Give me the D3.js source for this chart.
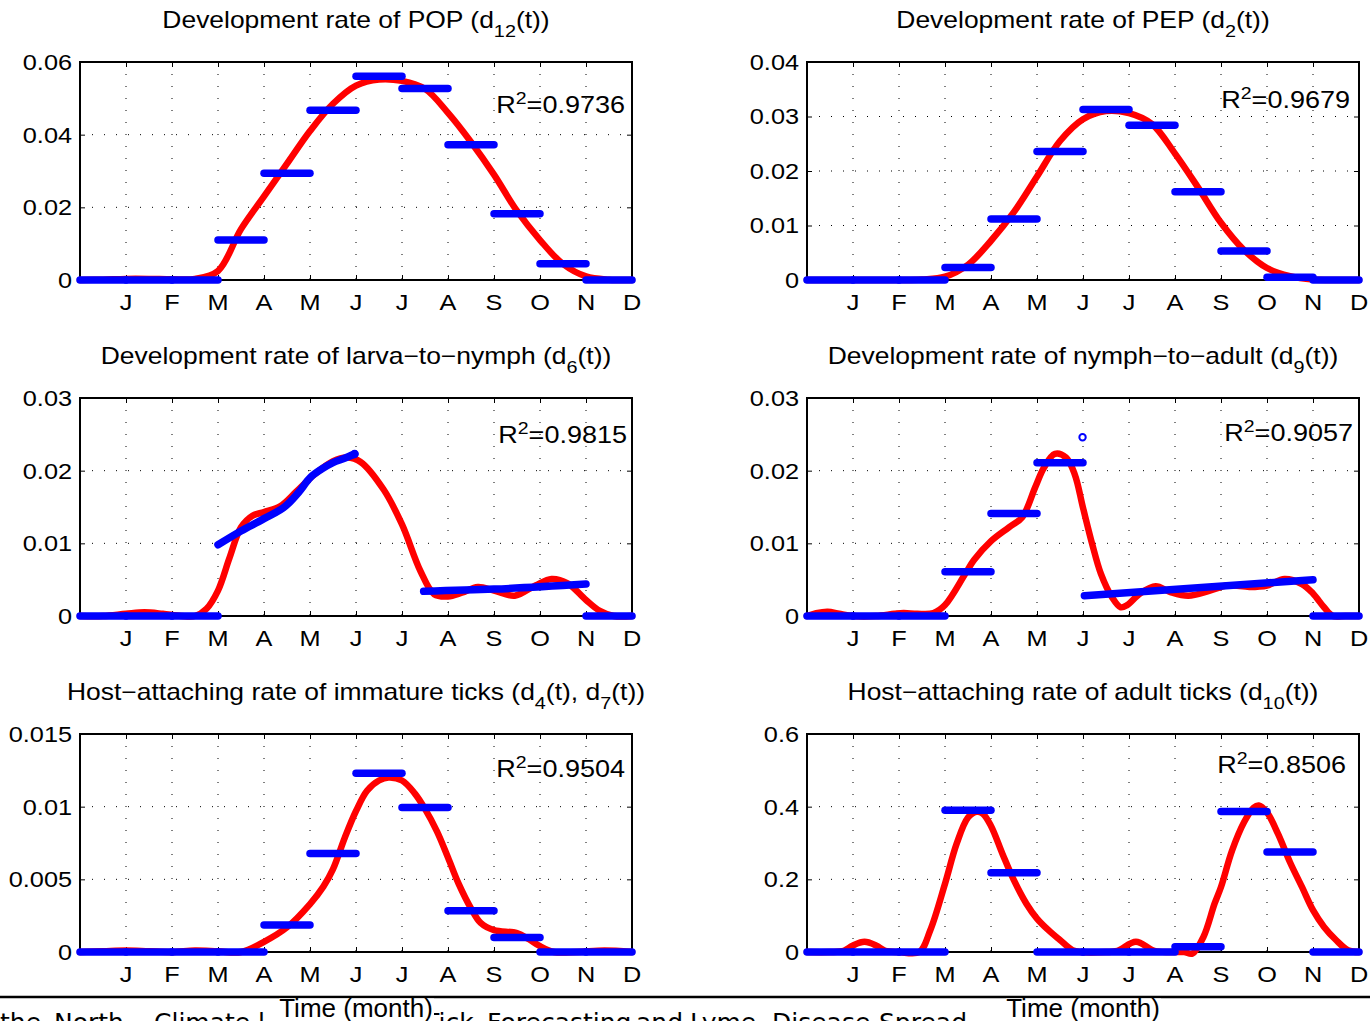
<!DOCTYPE html>
<html><head><meta charset="utf-8">
<script src="https://cdn.jsdelivr.net/npm/d3@7"></script>
<style>
body{margin:0;background:#fff;overflow:hidden;}
svg{display:block;}
text{font-family:"Liberation Sans",Arial,Helvetica,sans-serif;fill:#000;}
</style>
</head><body>
<svg id="c" width="1370" height="1021"></svg>
<script>
// ---------------- data ----------------
const monthLabels = ["J","F","M","A","M","J","J","A","S","O","N","D"];
const monthTicks  = [1,2,3,4,5,6,7,8,9,10,11,12];

const titles = [
  "Development rate of POP (d_{12}(t))",
  "Development rate of PEP (d_{2}(t))",
  "Development rate of larva\u2212to\u2212nymph (d_{6}(t))",
  "Development rate of nymph\u2212to\u2212adult (d_{9}(t))",
  "Host\u2212attaching rate of immature ticks (d_{4}(t), d_{7}(t))",
  "Host\u2212attaching rate of adult ticks (d_{10}(t))"
];
const r2Values = ["0.9736","0.9679","0.9815","0.9057","0.9504","0.8506"];
const yMaxes   = [0.06, 0.04, 0.03, 0.03, 0.015, 0.6];
const yTickValues = [
  [0,0.02,0.04,0.06],[0,0.01,0.02,0.03,0.04],[0,0.01,0.02,0.03],
  [0,0.01,0.02,0.03],[0,0.005,0.01,0.015],[0,0.2,0.4,0.6]
];
const yTickLabels = [
  ["0","0.02","0.04","0.06"],["0","0.01","0.02","0.03","0.04"],["0","0.01","0.02","0.03"],
  ["0","0.01","0.02","0.03"],["0","0.005","0.01","0.015"],["0","0.2","0.4","0.6"]
];
const xLabel = "Time (month)";

// monthly observed rates (blue steps), one value per month interval [i, i+1]
const obsPOP = [0,0,0,0.0110,0.0294,0.0467,0.0561,0.0527,0.0372,0.0182,0.0045,0];
const obsPEP = [0,0,0,0.0023,0.0112,0.0236,0.0313,0.0284,0.0162,0.0053,0.0005,0];
const obsImm = [0,0,0,0,0.00185,0.00677,0.0123,0.00994,0.00283,0.0010,0,0];
const obsAdu = [0,0,0,0.390,0.218,0,0,0,0.0146,0.387,0.275,0];
const obsNA_steps = [0,0,0,0.0061,0.0141,0.0211];          // months 0..6 of d9
const obsLN_steps = [0,0,0];                                 // months 0..3 of d6
// continuous observed pieces
const obsLN_curveT = [3,3.5,4,4.5,4.75,5,5.25,5.5,5.75,5.97];
const obsLN_curveV = [0.0098,0.0117,0.0134,0.0153,0.0170,0.0190,0.0202,0.0211,0.0217,0.0223];
const obsLN_lateT  = [7.47,9,11];
const obsLN_lateV  = [0.0034,0.0037,0.0044];
const obsLN_endT   = [11,12];
const obsLN_endV   = [0,0];
const obsNA_lateT  = [6.03,11];
const obsNA_lateV  = [0.0028,0.0050];
const obsNA_endT   = [11,12];
const obsNA_endV   = [0,0];
const obsNA_outT   = [5.99];
const obsNA_outV   = [0.0246];

// fitted curves (red)
const fitPOP_T = [0,0.5,1,1.5,2,2.5,3,3.5,4,4.5,5,5.5,6,6.5,7,7.5,8,8.5,9,9.5,10,10.5,11,11.5,12];
const fitPOP_V = [0,0.0001,0.0003,0.0003,0.0002,0.0003,0.0025,0.0140,0.0230,0.0320,0.0410,0.0485,0.0535,0.0552,0.0548,0.0526,0.0460,0.0380,0.0290,0.0190,0.0110,0.0044,0.0010,0.0001,0];
const fitPEP_T = [0,0.5,1,1.5,2,2.5,3,3.5,4,4.5,5,5.5,6,6.5,7,7.5,8,8.5,9,9.5,10,10.5,11,11.5,12];
const fitPEP_V = [0,0,0,0,0,0.0001,0.0006,0.0028,0.0072,0.0125,0.0190,0.0255,0.0295,0.0310,0.0306,0.0286,0.0232,0.0170,0.0105,0.0055,0.0022,0.0007,0.0001,0,0];
const fitLN_T  = [0,0.5,1,1.4,1.8,2.2,2.5,2.75,3,3.25,3.5,3.75,4,4.35,4.7,5.1,5.5,5.8,6.1,6.6,7,7.4,7.7,8,8.3,8.65,9,9.45,9.9,10.25,10.6,11,11.3,11.6,12];
const fitLN_V  = [0,0,0.0003,0.0005,0.0003,0,0,0.0010,0.0035,0.0080,0.0122,0.0138,0.0143,0.0151,0.0171,0.0195,0.0213,0.0218,0.0212,0.0174,0.0126,0.0062,0.0030,0.0027,0.0032,0.0040,0.0035,0.0028,0.0042,0.0051,0.0045,0.0022,0.0007,0,0];
const fitNA_T  = [0,0.2,0.45,0.7,1,1.5,1.9,2.1,2.4,2.75,3,3.44,3.63,4,4.39,4.68,4.96,5.15,5.39,5.63,5.82,6,6.2,6.39,6.63,6.82,6.96,7.24,7.58,7.9,8.29,8.76,9.14,9.62,10,10.38,10.76,11,11.24,11.43,11.7,12];
const fitNA_V  = [0,0.0004,0.0006,0.0003,0,0,0.0003,0.0004,0.0003,0.0004,0.0015,0.0058,0.0077,0.0103,0.0122,0.0136,0.0177,0.0204,0.0223,0.0218,0.0195,0.0149,0.0099,0.0058,0.0026,0.0012,0.0015,0.0031,0.0041,0.0033,0.0028,0.0035,0.0042,0.0040,0.0042,0.0051,0.0044,0.0031,0.0012,0,0,0];
const fitImm_T = [0,0.5,1,1.5,2,2.5,3,3.5,4,4.5,5,5.29,5.5,5.76,6,6.24,6.5,6.71,7,7.28,7.49,7.76,8,8.23,8.5,8.71,9,9.5,9.75,10,10.3,10.8,11.4,12];
const fitImm_V = [0,0.00005,0.0001,0.00005,0,0.0001,0.00005,0,0.0007,0.0017,0.0033,0.0045,0.0057,0.0079,0.0097,0.0111,0.0118,0.0120,0.0118,0.0109,0.0099,0.0083,0.0065,0.0047,0.0030,0.0020,0.0015,0.0013,0.0009,0.0004,0,0,0.0001,0];
const fitAdu_T = [0,0.5,0.8,1.0,1.25,1.5,1.7,2.0,2.44,2.68,3,3.25,3.5,3.68,3.82,4,4.25,4.5,4.77,5,5.25,5.5,5.77,5.95,6.5,6.75,7.15,7.55,7.9,8.2,8.38,8.62,8.86,9,9.24,9.5,9.71,9.82,10,10.24,10.5,10.76,11,11.24,11.5,11.76,12];
const fitAdu_V = [0,0,0.003,0.018,0.028,0.018,0.003,0,0,0.060,0.188,0.297,0.370,0.386,0.381,0.347,0.270,0.197,0.133,0.092,0.060,0.033,0.005,0,0,0.003,0.028,0.003,0,0,-0.004,0.042,0.133,0.179,0.279,0.357,0.397,0.403,0.384,0.325,0.247,0.179,0.115,0.069,0.033,0.005,0];

// ---------------- build panel records from the arrays ----------------
const zip = (T,V) => T.map((t,i)=>[t,V[i]]);
const steps = (vals, start=0) => vals.map((v,i)=>[[start+i,v],[start+i+1,v]]);

const panels = [
  {obs: steps(obsPOP), fit: zip(fitPOP_T,fitPOP_V), circles: []},
  {obs: steps(obsPEP), fit: zip(fitPEP_T,fitPEP_V), circles: []},
  {obs: [...steps(obsLN_steps), zip(obsLN_curveT,obsLN_curveV), zip(obsLN_lateT,obsLN_lateV), zip(obsLN_endT,obsLN_endV)],
   fit: zip(fitLN_T,fitLN_V), circles: [[obsLN_curveT[obsLN_curveT.length-1], obsLN_curveV[obsLN_curveV.length-1]]]},
  {obs: [...steps(obsNA_steps), zip(obsNA_lateT,obsNA_lateV), zip(obsNA_endT,obsNA_endV)],
   fit: zip(fitNA_T,fitNA_V), circles: zip(obsNA_outT,obsNA_outV)},
  {obs: steps(obsImm), fit: zip(fitImm_T,fitImm_V), circles: []},
  {obs: steps(obsAdu), fit: zip(fitAdu_T,fitAdu_V), circles: []}
];

// ---------------- layout ----------------
const W = 552, H = 218;
const colX = [80, 807], rowY = [62, 398, 734];
const SX = 1.15;               // horizontal stretch of the exported figure text
const FS = 22;                 // axis font size
const FR = 23.5;               // R^2 font size
const r2Pos = [[545,51],[543,46],[547,45],[546,43],[545,43],[539,39]];

const svg = d3.select("#c");

function richText(sel, str, size) {
  const parts = str.split(/(_\{[^}]*\})/).filter(s=>s.length);
  let shifted = false;
  parts.forEach(p=>{
    if (p.startsWith("_{")) {
      sel.append("tspan").attr("font-size", size*0.75).attr("dy", 9).text(p.slice(2,-1));
      shifted = true;
    } else {
      const t = sel.append("tspan").text(p);
      if (shifted) { t.attr("dy", -9); shifted = false; }
    }
  });
}

// ---------------- page remnants at the bottom (drawn first, partly covered) ----------------
const footerWords = [["the",0],["North",54],["Climate",154],["l",258],["Tick",424],["Forecasting",487],["and",636],["Lyme",690],["Disease",772],["Spread",879]];
svg.append("g").selectAll("text").data(footerWords).join("text")
  .attr("x",d=>d[1]).attr("y",1031)
  .style("font-family","'DejaVu Sans',sans-serif").attr("font-size",25)
  .text(d=>d[0]);

panels.forEach((p, i) => {
  const x0 = colX[i%2], y0 = rowY[Math.floor(i/2)];
  const g = svg.append("g").attr("transform", `translate(${x0},${y0})`);
  const x = d3.scaleLinear().domain([0,12]).range([0,W]);
  const y = d3.scaleLinear().domain([0,yMaxes[i]]).range([H,0]);

  // dotted grid
  g.append("g").selectAll("line").data(monthTicks.slice(0,11)).join("line")
    .attr("x1",d=>x(d)).attr("x2",d=>x(d)).attr("y1",0).attr("y2",H)
    .attr("stroke","#000").attr("stroke-width",1).attr("stroke-dasharray","1,11");
  g.append("g").selectAll("line").data(yTickValues[i].slice(1,-1)).join("line")
    .attr("x1",0).attr("x2",W).attr("y1",d=>y(d)).attr("y2",d=>y(d))
    .attr("stroke","#000").attr("stroke-width",1).attr("stroke-dasharray","1,11");

  // inward ticks via d3 axes
  const fmtNone = () => "";
  const axB = g.append("g").attr("transform",`translate(0,${H})`)
    .call(d3.axisBottom(x).tickValues(monthTicks).tickSize(-5).tickFormat(fmtNone));
  const axT = g.append("g")
    .call(d3.axisTop(x).tickValues(monthTicks).tickSize(-5).tickFormat(fmtNone));
  const axL = g.append("g")
    .call(d3.axisLeft(y).tickValues(yTickValues[i]).tickSize(-5).tickFormat(fmtNone));
  const axR = g.append("g").attr("transform",`translate(${W},0)`)
    .call(d3.axisRight(y).tickValues(yTickValues[i]).tickSize(-5).tickFormat(fmtNone));
  [axB,axT,axL,axR].forEach(a=>{
    a.select(".domain").remove();
    a.selectAll("line").attr("stroke","#000").attr("stroke-width",1);
  });

  // frame
  g.append("rect").attr("x",0).attr("y",0).attr("width",W).attr("height",H)
    .attr("fill","none").attr("stroke","#000").attr("stroke-width",2);

  // fitted curve (red)
  const line = d3.line().x(d=>x(d[0])).y(d=>y(d[1])).curve(d3.curveCatmullRom.alpha(0.5));
  g.append("path").datum(p.fit).attr("d",line)
    .attr("fill","none").attr("stroke","#ff0000").attr("stroke-width",6.5)
    .attr("stroke-linejoin","round").attr("stroke-linecap","round");

  // observed (blue)
  const lineO = d3.line().x(d=>x(d[0])).y(d=>y(d[1])).curve(d3.curveLinear);
  const lineC = d3.line().x(d=>x(d[0])).y(d=>y(d[1])).curve(d3.curveMonotoneX);
  g.append("g").selectAll("path").data(p.obs).join("path")
    .attr("d", d => (d.length>2 ? lineC(d) : lineO(d)))
    .attr("fill","none").attr("stroke","#0000ff").attr("stroke-width",7.5)
    .attr("stroke-linecap","round").attr("stroke-linejoin","round");
  g.append("g").selectAll("circle").data(p.circles).join("circle")
    .attr("cx",d=>x(d[0])).attr("cy",d=>y(d[1])).attr("r",3.2)
    .attr("fill","none").attr("stroke","#0000ff").attr("stroke-width",2);

  // y tick labels
  g.append("g").selectAll("g").data(yTickValues[i]).join("g")
    .attr("transform",d=>`translate(-8,${y(d)}) scale(${SX},1)`)
    .append("text").attr("text-anchor","end").attr("dy","0.36em")
    .attr("font-size",FS).text((d,j)=>yTickLabels[i][j]);

  // month labels
  g.append("g").selectAll("g").data(monthTicks).join("g")
    .attr("transform",d=>`translate(${x(d)},${H+30}) scale(${SX},1)`)
    .append("text").attr("text-anchor","middle").attr("font-size",FS)
    .text((d,j)=>monthLabels[j]);

  // title
  const tg = g.append("g").attr("transform",`translate(${W/2},-34) scale(${SX},1)`);
  richText(tg.append("text").attr("text-anchor","middle").attr("font-size",23), titles[i], 23);

  // R^2 label
  const rg = g.append("g").attr("transform",`translate(${r2Pos[i][0]},${r2Pos[i][1]}) scale(${SX},1)`);
  const rt = rg.append("text").attr("text-anchor","end").attr("font-size",FR);
  rt.append("tspan").text("R");
  rt.append("tspan").attr("font-size",FR*0.72).attr("dy",-9).text("2");
  rt.append("tspan").attr("dy",9).text("=" + r2Values[i]);
});

// page edge line and x-axis labels
svg.append("line").attr("x1",0).attr("x2",1370).attr("y1",997).attr("y2",997)
  .attr("stroke","#000").attr("stroke-width",2.5);

[colX[0]+W/2, colX[1]+W/2].forEach(cx=>{
  const lg = svg.append("g").attr("transform",`translate(${cx},1017)`);
  lg.append("rect").attr("x",-77).attr("y",-18.5).attr("width",155).attr("height",30).attr("fill","#fff");
  lg.append("text").attr("text-anchor","middle").attr("font-size",26).text(xLabel);
});
</script>
</body></html>
